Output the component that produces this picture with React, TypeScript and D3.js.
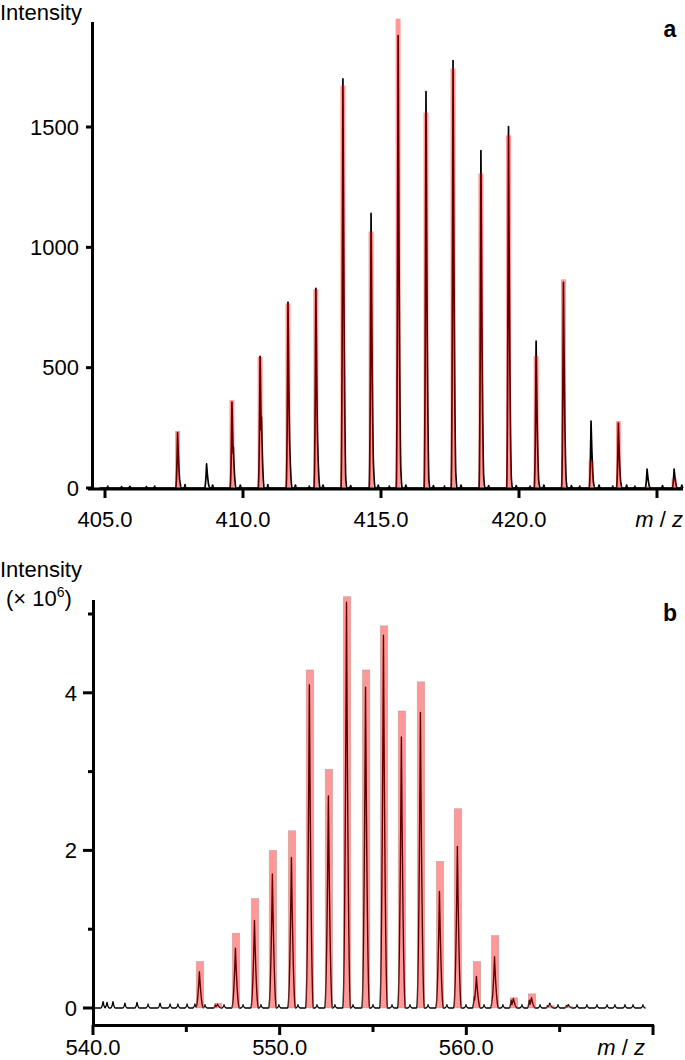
import React from 'react';
import * as d3 from 'd3';

// ---------- Panel a data ----------
const A_MZ = [407.63, 408.68, 409.6, 410.62, 411.63, 412.64, 413.62, 414.64, 415.62, 416.63, 417.61, 418.62, 419.62, 420.62, 421.61, 422.61, 423.6, 424.64, 425.62];
const A_RED = [237, 0, 365, 545, 767, 826, 1672, 1066, 1950, 1560, 1743, 1307, 1465, 548, 867, 112, 278, 8, 40];
const A_BLACK = [230, 100, 357, 547, 772, 830, 1700, 1141, 1880, 1647, 1776, 1402, 1502, 610, 855, 278, 270, 79, 79];
const A_SHOULDER = [60, 20, 170, 295, 240, 260, 170, 253, 300, 160, 250, 200, 180, 100, 120, 60, 60, 15, 15];
const A_NOISE_MZ = [405.1, 405.6, 405.9, 406.5, 406.8, 407.9, 408.9, 409.9, 410.9, 411.9, 412.4, 412.9, 413.9, 414.9, 415.3, 415.9, 416.9, 417.3, 417.9, 418.9, 419.9, 420.4, 420.9, 421.9, 422.2, 422.9, 423.4, 423.9, 424.2, 425.2, 425.9];
const A_NOISE_H = [8, 6, 7, 6, 8, 14, 12, 12, 14, 12, 8, 12, 10, 12, 8, 12, 10, 8, 12, 10, 10, 8, 12, 10, 8, 12, 8, 12, 8, 10, 12];
const A_Y_TICKS = [0, 500, 1000, 1500];
const A_X_TICKS = [405, 410, 415, 420, 425];
const A_X_LABELS = ['405.0', '410.0', '415.0', '420.0', ''];

// ---------- Panel b data (× 10^6) ----------
const B_MZ = [545.73, 546.7, 547.66, 548.68, 549.64, 550.66, 551.62, 552.64, 553.61, 554.63, 555.59, 556.55, 557.57, 558.59, 559.55, 560.57, 561.54, 562.55, 563.52, 564.5, 565.5];
const B_RED = [0.59, 0.06, 0.95, 1.39, 2.0, 2.25, 4.29, 3.03, 5.22, 4.29, 4.85, 3.77, 4.14, 1.86, 2.53, 0.59, 0.92, 0.13, 0.18, 0.03, 0.02];
const B_BLACK = [0.46, 0.05, 0.76, 1.11, 1.7, 1.91, 4.1, 2.69, 5.15, 4.07, 4.73, 3.44, 3.75, 1.48, 2.05, 0.4, 0.65, 0.12, 0.13, 0.06, 0.04];
const B_SHOULDER = [0.05, 0.04, 0.06, 0.06, 0.08, 0.08, 0.1, 0.1, 0.12, 0.12, 0.13, 0.13, 0.13, 0.14, 0.14, 0.14, 0.14, 0.1, 0.1, 0.03, 0.03];
const B_NOISE_MZ = [540.54, 540.75, 541.07, 541.71, 542.36, 542.95, 543.59, 544.13, 544.55, 545.04, 545.46, 546.0, 547.02, 548.04, 549.0, 549.96, 550.98, 552.0, 552.96, 553.93, 555.0, 556.02, 556.98, 557.95, 558.96, 559.98, 560.95, 561.96, 562.98, 563.95, 564.91, 565.45, 565.93, 566.46, 567.0, 567.54, 567.96, 568.5, 568.93, 569.46];
const B_NOISE_H = [0.08, 0.07, 0.08, 0.06, 0.07, 0.05, 0.06, 0.05, 0.05, 0.05, 0.05, 0.04, 0.04, 0.04, 0.04, 0.04, 0.04, 0.04, 0.04, 0.04, 0.04, 0.04, 0.04, 0.04, 0.04, 0.04, 0.04, 0.04, 0.04, 0.04, 0.04, 0.04, 0.04, 0.04, 0.04, 0.04, 0.04, 0.04, 0.04, 0.04];
const B_Y_TICKS = [0, 1, 2, 3, 4, 5];
const B_Y_LABELS = ['0', '', '2', '', '4', ''];
const B_X_TICKS = [540, 545, 550, 555, 560, 565, 570];
const B_X_LABELS = ['540.0', '', '550.0', '', '560.0', '', ''];

type Pk = { c: number; h: number; l: number; r: number };

function buildProfile(peaks: Pk[], start: number, end: number, step: number): [number, number][] {
  const grid = d3.range(start, end, step).concat(peaks.map((p) => p.c)).concat([end]);
  grid.sort((a, b) => a - b);
  return grid
    .filter((m) => m >= start && m <= end)
    .map((m) => {
      let v = 0;
      for (const p of peaks) {
        const d = m - p.c;
        const w = d < 0 ? p.l : p.r;
        const t = 1 - Math.abs(d) / w;
        if (t > 0) v = Math.max(v, p.h * t * t);
      }
      return [m, v] as [number, number];
    });
}

const FONT = "'Liberation Sans', Arial, Helvetica, sans-serif";

function MzLabel({ x, y }: { x: number; y: number }) {
  return (
    <text x={x} y={y} textAnchor="end" fontSize={22} fontFamily={FONT}>
      <tspan fontStyle="italic">m</tspan>
      <tspan> / </tspan>
      <tspan fontStyle="italic">z</tspan>
    </text>
  );
}

function PanelA() {
  const x = d3.scaleLinear().domain([405, 425]).range([105, 657]);
  const y = d3.scaleLinear().domain([0, 1500]).range([488, 127]);
  const peaks: Pk[] = [];
  A_MZ.forEach((c, i) => {
    peaks.push({ c, h: A_BLACK[i], l: 0.07, r: 0.12 });
    peaks.push({ c: c + 0.05, h: A_SHOULDER[i], l: 0.06, r: 0.1 });
  });
  A_NOISE_MZ.forEach((c, i) => peaks.push({ c, h: A_NOISE_H[i], l: 0.06, r: 0.06 }));
  const pts = buildProfile(peaks, 404.8, 425.95, 0.004);
  const line = d3
    .line<[number, number]>()
    .x((d) => x(d[0]))
    .y((d) => y(d[1]));
  return (
    <g>
      <path d={line(pts) || ''} fill="none" stroke="#000" strokeWidth={1.7} strokeLinejoin="round" />
      {A_MZ.map((c, i) =>
        A_RED[i] > 0 ? (
          <rect
            key={i}
            x={x(c - 0.09)}
            width={x(c + 0.09) - x(c - 0.09)}
            y={y(A_RED[i])}
            height={y(0) - y(A_RED[i])}
            fill="red"
            fillOpacity={0.4}
          />
        ) : null
      )}
      {/* axes */}
      <line x1={92.5} x2={92.5} y1={22} y2={490} stroke="#000" strokeWidth={3} />
      <line x1={88} x2={683} y1={489} y2={489} stroke="#000" strokeWidth={3} />
      {A_Y_TICKS.map((t) => (
        <g key={t}>
          <line x1={86} x2={92} y1={y(t)} y2={y(t)} stroke="#000" strokeWidth={3} />
          <text x={79} y={y(t)} dy="0.35em" textAnchor="end" fontSize={22} fontFamily={FONT}>
            {t}
          </text>
        </g>
      ))}
      {A_X_TICKS.map((t, i) => (
        <g key={t}>
          <line x1={x(t)} x2={x(t)} y1={489} y2={498} stroke="#000" strokeWidth={3} />
          <text x={x(t)} y={527} textAnchor="middle" fontSize={22} fontFamily={FONT}>
            {A_X_LABELS[i]}
          </text>
        </g>
      ))}
      <MzLabel x={683} y={527} />
      <text x={0} y={19.5} fontSize={22} fontFamily={FONT}>
        Intensity
      </text>
      <text x={670} y={37} textAnchor="middle" fontSize={23} fontWeight="bold" fontFamily={FONT}>
        a
      </text>
    </g>
  );
}

function PanelB() {
  const x = d3.scaleLinear().domain([540, 570]).range([93, 653]);
  const y = d3.scaleLinear().domain([0, 5]).range([1008, 614]);
  const peaks: Pk[] = [];
  B_MZ.forEach((c, i) => {
    peaks.push({ c: c - 0.03, h: B_BLACK[i], l: 0.2, r: 0.22 });
    peaks.push({ c: c - 0.15, h: B_SHOULDER[i], l: 0.1, r: 0.1 });
  });
  B_NOISE_MZ.forEach((c, i) => peaks.push({ c, h: B_NOISE_H[i], l: 0.13, r: 0.13 }));
  const pts = buildProfile(peaks, 540.0, 569.6, 0.01);
  const line = d3
    .line<[number, number]>()
    .x((d) => x(d[0]))
    .y((d) => y(d[1]));
  return (
    <g>
      <path d={line(pts) || ''} fill="none" stroke="#000" strokeWidth={1.4} strokeLinejoin="round" />
      {B_MZ.map((c, i) => (
        <rect
          key={i}
          x={x(c - 0.2)}
          width={x(c + 0.2) - x(c - 0.2)}
          y={y(B_RED[i])}
          height={y(0) - y(B_RED[i])}
          fill="red"
          fillOpacity={0.4}
          stroke="rgba(140,140,140,0.45)"
          strokeWidth={0.7}
        />
      ))}
      <line x1={93.5} x2={93.5} y1={600} y2={1027} stroke="#000" strokeWidth={3} />
      <line x1={92} x2={654} y1={1025.5} y2={1025.5} stroke="#000" strokeWidth={3} />
      {B_Y_TICKS.map((t, i) => (
        <g key={t}>
          <line
            x1={B_Y_LABELS[i] ? 83 : 88}
            x2={93}
            y1={y(t)}
            y2={y(t)}
            stroke="#000"
            strokeWidth={3}
          />
          <text x={77} y={y(t)} dy="0.35em" textAnchor="end" fontSize={22} fontFamily={FONT}>
            {B_Y_LABELS[i]}
          </text>
        </g>
      ))}
      {B_X_TICKS.map((t, i) => (
        <g key={t}>
          <line
            x1={x(t)}
            x2={x(t)}
            y1={1025}
            y2={B_X_LABELS[i] || t === 570 ? 1035 : 1032}
            stroke="#000"
            strokeWidth={3}
          />
          <text x={x(t)} y={1055} textAnchor="middle" fontSize={22} fontFamily={FONT}>
            {B_X_LABELS[i]}
          </text>
        </g>
      ))}
      <MzLabel x={645} y={1055} />
      <text x={0} y={577} fontSize={22} fontFamily={FONT}>
        Intensity
      </text>
      <text x={6} y={606} fontSize={22} fontFamily={FONT}>
        <tspan>(× 10</tspan>
        <tspan fontSize={14} dy={-9}>
          6
        </tspan>
        <tspan dy={9}>)</tspan>
      </text>
      <text x={670} y={621} textAnchor="middle" fontSize={23} fontWeight="bold" fontFamily={FONT}>
        b
      </text>
    </g>
  );
}

export default function App() {
  return (
    <svg
      width={685}
      height={1060}
      viewBox="0 0 685 1060"
      style={{ position: 'absolute', left: 0, top: 0, background: '#fff' }}
    >
      <rect width={685} height={1060} fill="#fff" />
      <PanelA />
      <PanelB />
    </svg>
  );
}
